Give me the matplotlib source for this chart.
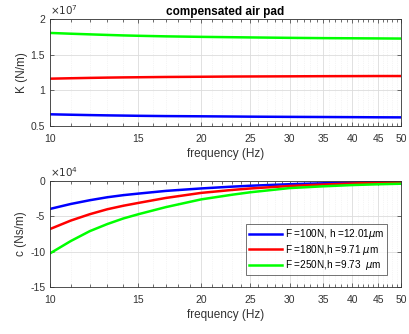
import matplotlib
matplotlib.use("Agg")
from matplotlib import pyplot as plt
from matplotlib.ticker import FuncFormatter, FixedLocator, FixedFormatter, NullFormatter

plt.rcParams['font.family'] = ['Liberation Sans', 'DejaVu Sans']
plt.rcParams['mathtext.fontset'] = 'dejavusans'

# frequency samples (Hz)
freq = [10, 11, 12, 13, 14, 15, 17, 20, 23, 25, 30, 35, 40, 45, 50]

# stiffness K (N/m)
k_100 = [0.663e7, 0.657e7, 0.652e7, 0.648e7, 0.645e7, 0.642e7, 0.638e7, 0.635e7, 0.632e7,
         0.630e7, 0.627e7, 0.625e7, 0.623e7, 0.621e7, 0.620e7]
k_180 = [1.163e7, 1.169e7, 1.174e7, 1.178e7, 1.181e7, 1.183e7, 1.187e7, 1.190e7, 1.193e7,
         1.194e7, 1.196e7, 1.198e7, 1.199e7, 1.200e7, 1.200e7]
k_250 = [1.805e7, 1.794e7, 1.785e7, 1.777e7, 1.770e7, 1.765e7, 1.757e7, 1.750e7, 1.745e7,
         1.742e7, 1.736e7, 1.732e7, 1.730e7, 1.728e7, 1.726e7]

# damping c (Ns/m)
c_100 = [-3.95e4, -3.25e4, -2.72e4, -2.30e4, -2.00e4, -1.78e4, -1.40e4, -1.05e4, -0.80e4,
         -0.67e4, -0.45e4, -0.32e4, -0.22e4, -0.14e4, -0.07e4]
c_180 = [-6.80e4, -5.60e4, -4.70e4, -4.00e4, -3.50e4, -3.10e4, -2.40e4, -1.68e4, -1.27e4,
         -1.06e4, -0.70e4, -0.50e4, -0.35e4, -0.24e4, -0.15e4]
c_250 = [-10.25e4, -8.50e4, -7.10e4, -6.10e4, -5.30e4, -4.70e4, -3.70e4, -2.60e4, -1.95e4,
         -1.60e4, -1.00e4, -0.75e4, -0.57e4, -0.46e4, -0.38e4]

labels = [r'F =100N, h =12.01$\mu$m', r'F =180N,h =9.71 $\mu$m', r'F =250N,h =9.73  $\mu$m']
colors = ['#0000ff', '#ff0000', '#00ff00']

xticks = [10, 15, 20, 25, 30, 35, 40, 45, 50]
minor = [v for v in range(10, 51) if v not in xticks]
txt = '#333333'


def style(ax, ylim, yticks, power):
    ax.set_xscale('log')
    ax.set_xlim(10, 50)
    ax.set_ylim(*ylim)
    ax.set_yticks(yticks)
    ax.xaxis.set_major_locator(FixedLocator(xticks))
    ax.xaxis.set_major_formatter(FixedFormatter([str(v) for v in xticks]))
    ax.xaxis.set_minor_locator(FixedLocator(minor))
    ax.xaxis.set_minor_formatter(NullFormatter())
    ax.yaxis.set_major_formatter(FuncFormatter(lambda v, p: '%g' % round(v / 10**power, 6)))
    ax.tick_params(which='both', direction='in', top=True, right=True, colors=txt, labelsize=7.5, width=0.5)
    ax.tick_params(which='major', length=3)
    ax.tick_params(which='minor', length=2)
    ax.tick_params(axis='x', which='major', pad=6)
    ax.grid(True, which='major', color='#dcdcdc', linewidth=0.6)
    ax.grid(True, which='minor', axis='x', color='#ececec', linewidth=0.5, linestyle=':')
    ax.set_axisbelow(True)
    for s in ax.spines.values():
        s.set_linewidth(0.6)
        s.set_color(txt)
    ax.set_xlabel('frequency (Hz)', fontsize=8.5, color=txt, labelpad=3)
    ax.text(0.0, 1.015, r'$\times10^{%d}$' % power, transform=ax.transAxes,
            fontsize=7.5, color=txt, ha='left', va='bottom')


fig = plt.figure(figsize=(4.1, 3.34), dpi=100)
ax1 = fig.add_axes([0.122, 0.623, 0.856, 0.320])
ax2 = fig.add_axes([0.122, 0.141, 0.856, 0.317])

for y, col in zip([k_100, k_180, k_250], colors):
    ax1.plot(freq, y, color=col, linewidth=1.8)
style(ax1, (0.5e7, 2e7), [0.5e7, 1e7, 1.5e7, 2e7], 7)
ax1.set_ylabel('K (N/m)', fontsize=8.5, color=txt, labelpad=2)
ax1.set_title('compensated air pad', fontsize=8.5, fontweight='bold', pad=3)

for y, col, lab in zip([c_100, c_180, c_250], colors, labels):
    ax2.plot(freq, y, color=col, linewidth=1.8, label=lab)
style(ax2, (-15e4, 0), [-15e4, -10e4, -5e4, 0], 4)
ax2.set_ylabel('c (Ns/m)', fontsize=8.5, color=txt, labelpad=2)
leg = ax2.legend(loc='lower right', bbox_to_anchor=(0.96, 0.11), fontsize=7.2, frameon=True,
                 fancybox=False, edgecolor=txt, handlelength=3.3, handletextpad=0.3,
                 borderpad=0.3, labelspacing=0.15, borderaxespad=0)
leg.get_frame().set_linewidth(0.6)

fig.savefig('out.png', dpi=100)
